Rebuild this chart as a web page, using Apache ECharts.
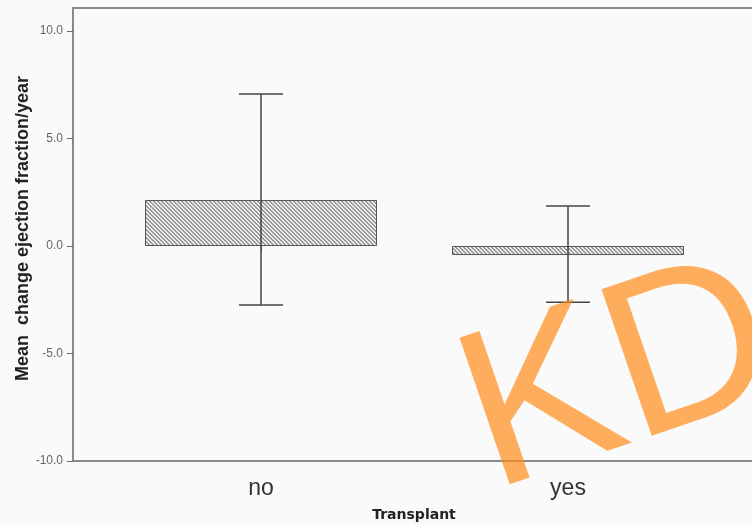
<!DOCTYPE html>
<html><head><meta charset="utf-8">
<script src="https://cdn.jsdelivr.net/npm/echarts@6/dist/echarts.min.js"></script>
<style>html,body{margin:0;padding:0;background:#fafafa}#c{width:752px;height:525px}</style>
</head><body><div id="c"></div>
<script>
const categories = ['no', 'yes'];
const means = [2.14, -0.42];
const lower = [-2.74, -2.62];
const upper = [7.07, 1.86];
const yTicks = [-10, -5, 0, 5, 10];
const yTitle = 'Mean  change ejection fraction/year';
const xTitle = 'Transplant';
const watermark = 'KD';

// hatch pattern
const pc = document.createElement('canvas');
pc.width = 4; pc.height = 4;
const pctx = pc.getContext('2d');
pctx.fillStyle = '#ececec';
pctx.fillRect(0, 0, 4, 4);
pctx.fillStyle = '#9a9a9a';
for (let x = 0; x < 4; x++) for (let y = 0; y < 4; y++) {
  const d = ((x - y) % 4 + 4) % 4;
  if (d === 0 || d === 1) pctx.fillRect(x, y, 1, 1);
}

const chart = echarts.init(document.getElementById('c'), null, {renderer: 'canvas'});
const option = {
  backgroundColor: '#fafafa',
  animation: false,
  grid: [
    {left: 73, right: -3, top: 8, bottom: 64, show: true, borderColor: '#8a8a8a', borderWidth: 2, backgroundColor: 'transparent', containLabel: false, outerBoundsMode: 'none'},
    {left: 107.5, right: 30.5, top: 8, bottom: 64, containLabel: false, outerBoundsMode: 'none'}
  ],
  xAxis: [
    {gridIndex: 0, type: 'value', min: 0, max: 1, axisLine: {show: true, onZero: false, lineStyle: {color: '#8a8a8a', width: 2}},
     axisTick: {show: false}, axisLabel: {show: false}, splitLine: {show: false},
     name: xTitle, nameLocation: 'middle', nameGap: 47,
     nameTextStyle: {fontFamily: 'DejaVu Sans', fontWeight: 'bold', fontSize: 14, color: '#222'}},
    {gridIndex: 1, type: 'category', data: categories, axisLine: {show: false},
     axisTick: {show: true, alignWithLabel: true, length: 5, lineStyle: {color: '#555', width: 1}},
     axisLabel: {fontSize: 23, color: '#333', margin: 16, fontFamily: 'Liberation Sans'}}
  ],
  yAxis: [
    {gridIndex: 0, type: 'value', min: -10, max: 11.07, interval: 5,
     axisLine: {show: true, onZero: false, lineStyle: {color: '#8a8a8a', width: 2}},
     axisTick: {show: true, length: 6, customValues: yTicks, lineStyle: {color: '#666'}},
     axisLabel: {customValues: yTicks, formatter: v => v.toFixed(1), fontSize: 12, color: '#666', margin: 10, fontFamily: 'Liberation Sans'},
     splitLine: {show: false},
     name: yTitle, nameLocation: 'middle', nameGap: 41, nameMoveOverlap: false,
     nameTextStyle: {fontFamily: 'Liberation Sans', fontWeight: 'bold', fontSize: 18, color: '#222', padding: [0, 0, 0, 12]}},
    {gridIndex: 1, type: 'value', min: -10, max: 11.07, show: false}
  ],
  series: [
    {type: 'bar', xAxisIndex: 1, yAxisIndex: 1, data: means, barWidth: 232,
     itemStyle: {color: {image: pc, repeat: 'repeat'}, borderColor: '#555', borderWidth: 1}},
    {type: 'custom', xAxisIndex: 1, yAxisIndex: 1, data: categories.map((c, i) => [i, lower[i], upper[i]]),
     renderItem: function (params, api) {
       const x = api.coord([api.value(0), 0])[0];
       const lo = api.coord([api.value(0), api.value(1)])[1];
       const hi = api.coord([api.value(0), api.value(2)])[1];
       const w = 22;
       const st = {stroke: '#444', lineWidth: 1.5};
       return {type: 'group', children: [
         {type: 'line', shape: {x1: x, y1: lo, x2: x, y2: hi}, style: st},
         {type: 'line', shape: {x1: x - w, y1: hi, x2: x + w, y2: hi}, style: st},
         {type: 'line', shape: {x1: x - w, y1: lo, x2: x + w, y2: lo}, style: st}
       ]};
     }, z: 5}
  ],
  graphic: [
    {type: 'text', x: 620, y: 381, rotation: 0.33, z: 100,
     style: {text: watermark, fontSize: 225, fontFamily: 'Liberation Sans', fill: 'rgba(255,140,26,0.7)', align: 'center', verticalAlign: 'middle'}}
  ]
};
chart.setOption(option);
</script>
</body></html>
